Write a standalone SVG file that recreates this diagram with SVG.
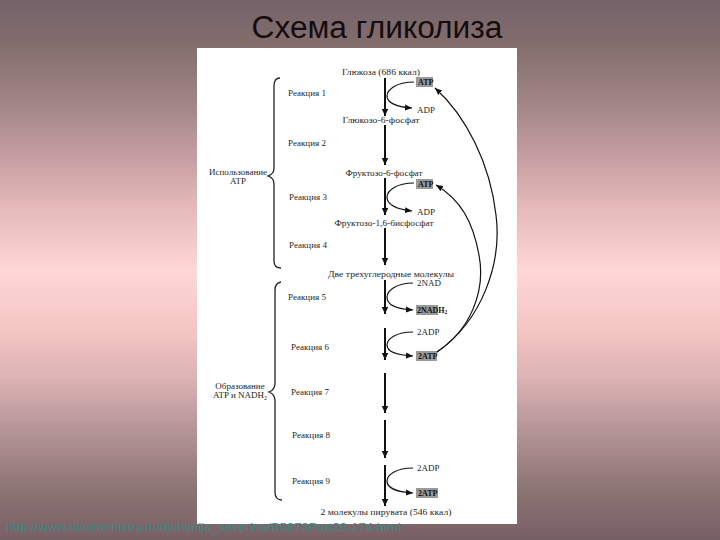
<svg xmlns="http://www.w3.org/2000/svg" width="720" height="540" viewBox="0 0 720 540">
<defs>
<linearGradient id="bg" x1="0" y1="0" x2="0" y2="1">
<stop offset="0" stop-color="#75636b"/>
<stop offset="0.08" stop-color="#826d6c"/>
<stop offset="0.2" stop-color="#a58889"/>
<stop offset="0.3" stop-color="#c9a0a3"/>
<stop offset="0.38" stop-color="#e4b8b8"/>
<stop offset="0.5" stop-color="#ffd7d5"/>
<stop offset="0.62" stop-color="#f2c4c2"/>
<stop offset="0.7" stop-color="#dcb2b4"/>
<stop offset="0.8" stop-color="#b49496"/>
<stop offset="0.9" stop-color="#8e7674"/>
<stop offset="1" stop-color="#775f66"/>
</linearGradient>
<marker id="ah" markerUnits="userSpaceOnUse" markerWidth="8" markerHeight="8" refX="7" refY="4" orient="auto">
<path d="M0,0.8 L7,4 L0,7.2 Z" fill="#111"/>
</marker>
<marker id="ahs" markerUnits="userSpaceOnUse" markerWidth="8" markerHeight="8" refX="7" refY="4" orient="auto">
<path d="M0,1 L7,4 L0,7 Z" fill="#111"/>
</marker>
</defs>
<style>
.t{font-family:"Liberation Serif","Times New Roman",serif;font-size:9px;fill:#262626}
.m{text-anchor:middle}
.main{stroke:#111;stroke-width:2;fill:none}
.thin{stroke:#111;stroke-width:1.2;fill:none}
.br{stroke:#222;stroke-width:1.3;fill:none}
.box{fill:#9a9a9a}
.bt{font-family:"Liberation Serif","Times New Roman",serif;font-size:8px;fill:#111;font-weight:bold}
</style>
<rect width="720" height="540" fill="url(#bg)"/>
<text x="377" y="38" text-anchor="middle" font-family="Liberation Sans, Arial, sans-serif" font-size="31" fill="#150d0d" textLength="251" lengthAdjust="spacingAndGlyphs">Схема гликолиза</text>
<rect x="197" y="48" width="320" height="476" fill="#ffffff"/>

<g id="braces">
<path class="br" d="M280,78 Q274,78 274,86 L274,168 Q274,174 268,176 Q274,178 274,184 L274,261 Q274,268 281,268"/>
<path class="br" d="M281,282 Q275,283 275,290 L275,383 Q275,390 269,392 Q275,394 275,401 L275,492 Q275,500 282,500"/>
</g>

<g id="labels-left">
<text class="t m" x="238" y="175">Использование</text>
<text class="t m" x="238" y="184">ATP</text>
<text class="t m" x="240" y="389">Образование</text>
<text class="t m" x="240" y="398">ATP и NADH<tspan font-size="6" dy="2">2</tspan></text>
</g>

<g id="reactions">
<text class="t" x="288" y="96">Реакция 1</text>
<text class="t" x="288" y="146">Реакция 2</text>
<text class="t" x="289" y="200">Реакция 3</text>
<text class="t" x="289" y="248">Реакция 4</text>
<text class="t" x="288" y="300">Реакция 5</text>
<text class="t" x="291" y="350">Реакция 6</text>
<text class="t" x="291" y="395">Реакция 7</text>
<text class="t" x="292" y="438">Реакция 8</text>
<text class="t" x="292" y="484">Реакция 9</text>
</g>

<g id="metabolites">
<text class="t m" x="381" y="75" textLength="78" lengthAdjust="spacingAndGlyphs">Глюкоза (686 ккал)</text>
<text class="t m" x="381" y="123" textLength="77" lengthAdjust="spacingAndGlyphs">Глюкозо-6-фосфат</text>
<text class="t m" x="384" y="176" textLength="77" lengthAdjust="spacingAndGlyphs">Фруктозо-6-фосфат</text>
<text class="t m" x="384" y="226" textLength="99" lengthAdjust="spacingAndGlyphs">Фруктозо-1,6-бисфосфат</text>
<text class="t m" x="391" y="277" textLength="126" lengthAdjust="spacingAndGlyphs">Две трехуглеродные молекулы</text>
<text class="t m" x="386" y="515" textLength="131" lengthAdjust="spacingAndGlyphs">2 молекулы пирувата (546 ккал)</text>
</g>

<g id="cofactors">
<rect class="box" x="416" y="77" width="17" height="10"/>
<text class="bt" x="418" y="85">ATP</text>
<text class="t" x="417" y="113" font-size="7">ADP</text>
<rect class="box" x="416" y="179" width="17" height="10"/>
<text class="bt" x="418" y="187">ATP</text>
<text class="t" x="417" y="215" font-size="7">ADP</text>
<text class="t" x="417" y="286" font-size="7">2NAD</text>
<rect class="box" x="416" y="305" width="22" height="10"/>
<text class="bt" x="417" y="313">2NADH<tspan font-size="5.5" dy="1">2</tspan></text>
<text class="t" x="417" y="335" font-size="7">2ADP</text>
<rect class="box" x="416" y="351" width="21" height="10"/>
<text class="bt" x="418" y="359">2ATP</text>
<text class="t" x="417" y="471" font-size="7">2ADP</text>
<rect class="box" x="416" y="488" width="22" height="10"/>
<text class="bt" x="418" y="496">2ATP</text>
</g>

<g id="connectors">
<line class="main" x1="385" y1="78" x2="385" y2="116" marker-end="url(#ah)"/>
<line class="main" x1="385" y1="125" x2="385" y2="165" marker-end="url(#ah)"/>
<line class="main" x1="385" y1="178" x2="385" y2="215" marker-end="url(#ah)"/>
<line class="main" x1="385" y1="228" x2="385" y2="265" marker-end="url(#ah)"/>
<line class="main" x1="385" y1="280" x2="385" y2="314" marker-end="url(#ah)"/>
<line class="main" x1="385" y1="328" x2="385" y2="360" marker-end="url(#ah)"/>
<line class="main" x1="385" y1="373" x2="385" y2="413" marker-end="url(#ah)"/>
<line class="main" x1="385" y1="420" x2="385" y2="458" marker-end="url(#ah)"/>
<line class="main" x1="385" y1="465" x2="385" y2="506" marker-end="url(#ah)"/>

<path class="thin" d="M414,82 C396,82 387,90 387,96 C387,102 395,107 412,108" marker-end="url(#ahs)"/>
<path class="thin" d="M414,183 C396,183 387,191 387,197 C387,204 395,209 412,211" marker-end="url(#ahs)"/>
<path class="thin" d="M413,283 C396,283 387,291 387,297 C387,304 395,309 413,310" marker-end="url(#ahs)"/>
<path class="thin" d="M413,332 C396,332 387,339 387,345 C387,351 395,355 413,356" marker-end="url(#ahs)"/>
<path class="thin" d="M413,468 C396,468 387,475 387,481 C387,487 395,492 413,493" marker-end="url(#ahs)"/>

<path class="thin" d="M437,352 C483,320 502,262 496,215 C490,163 466,116 435,88" marker-end="url(#ahs)"/>
<path class="thin" d="M437,352 C470,330 486,292 479,255 C473,222 461,200 436,185" marker-end="url(#ahs)"/>
</g>

<text x="6" y="531" font-family="Liberation Sans, Arial, sans-serif" font-size="11" fill="#3a8a82" textLength="395" lengthAdjust="spacingAndGlyphs">http://www.biochemistry.ru/biohimija_severina/B5873Part29-174.html</text>
</svg>
